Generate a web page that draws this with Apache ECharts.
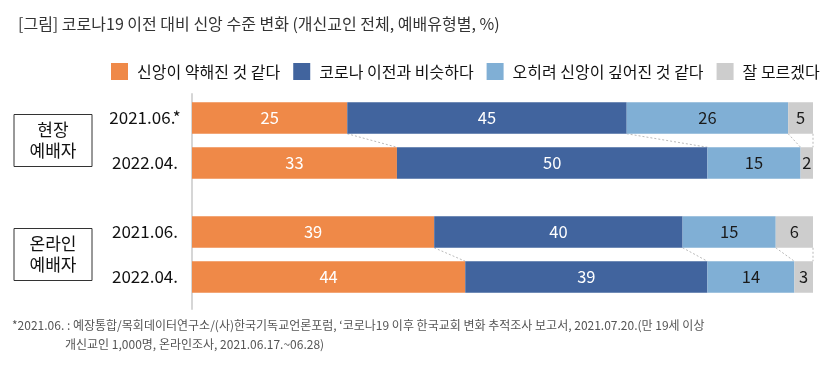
<!DOCTYPE html>
<html><head><meta charset="utf-8">
<script src="https://cdn.jsdelivr.net/npm/echarts@6/dist/echarts.min.js"></script>
<style>html,body{margin:0;padding:0;background:#fff}#c{width:835px;height:373px}</style>
</head><body><div id="c"></div>
<script>
const titleText = '[그림] 코로나19 이전 대비 신앙 수준 변화 (개신교인 전체, 예배유형별, %)';
const footnote1 = '*2021.06. : 예장통합/목회데이터연구소/(사)한국기독교언론포럼, \u2018코로나19 이후 한국교회 변화 추적조사 보고서, 2021.07.20.(만 19세 이상';
const footnote2 = '개신교인 1,000명, 온라인조사, 2021.06.17.~06.28)';
const seriesNames = ['신앙이 약해진 것 같다', '코로나 이전과 비슷하다', '오히려 신앙이 깊어진 것 같다', '잘 모르겠다'];
const groups = ['현장\n예배자', '온라인\n예배자'];
const categories = ['2021.06.*', '2022.04.', '2021.06.', '2022.04.'];
const weakened = [25, 33, 39, 44];
const similar = [45, 50, 40, 39];
const deepened = [26, 15, 15, 14];
const unknown = [5, 2, 6, 3];

const colors = ['#EF8948', '#41649E', '#80AFD5', '#CDCDCD'];
const labelColors = ['#ffffff', '#ffffff', '#1a1a1a', '#1a1a1a'];
const FONT = "'Noto Sans CJK KR', 'Noto Sans', sans-serif";
const values = [weakened, similar, deepened, unknown];

const gridTops = [95.5, 209.5];
const grids = gridTops.map(t => ({left: 192, right: 22, top: t, height: 90}));
grids.push({left: 192, right: 22, top: 94, height: 215});

const xAxes = [0, 1, 2].map(i => ({
  gridIndex: i, type: 'value', min: 0, max: 100, show: false
}));

const yAxes = [];
[0, 1].forEach(g => {
  yAxes.push({
    gridIndex: g, type: 'category', inverse: true,
    data: categories.slice(g * 2, g * 2 + 2),
    axisLine: {show: false}, axisTick: {show: false},
    axisLabel: {margin: 47, align: 'center', fontSize: 17, color: '#111', fontFamily: FONT}
  });
});
[0, 1].forEach(g => {
  yAxes.push({
    gridIndex: g, type: 'category', position: 'left',
    data: [groups[g]],
    axisLine: {show: false}, axisTick: {show: false},
    axisLabel: {
      margin: 139, align: 'center', verticalAlign: 'middle',
      fontSize: 17, lineHeight: 21, color: '#111', fontFamily: FONT,
      borderColor: '#333', borderWidth: 1, width: 78, height: 44, padding: [4, 0, 4, 0]
    }
  });
});
yAxes.push({
  gridIndex: 2, type: 'value', min: 0, max: 1,
  axisLine: {show: true, lineStyle: {color: '#d6d6d6', width: 2}},
  axisTick: {show: false}, axisLabel: {show: false}, splitLine: {show: false}
});

const series = [];
[0, 1].forEach(g => {
  values.forEach((arr, k) => {
    series.push({
      name: seriesNames[k], type: 'bar', stack: 'g' + g,
      xAxisIndex: g, yAxisIndex: g,
      barWidth: '70%', clip: true,
      itemStyle: {color: colors[k]},
      label: {show: true, position: 'inside', fontSize: 16.5, color: labelColors[k], fontFamily: FONT},
      data: arr.slice(g * 2, g * 2 + 2)
    });
  });
  // connector lines between the two bars of a group
  const cumTop = [], cumBot = [];
  let a = 0, b = 0;
  values.forEach(arr => { a += arr[g * 2]; b += arr[g * 2 + 1]; cumTop.push(a); cumBot.push(b); });
  series.push({
    type: 'custom', xAxisIndex: g, yAxisIndex: g, silent: true, z: 1,
    encode: {x: [0, 1], y: 2},
    data: cumTop.map((v, i) => [v, cumBot[i], 0]),
    renderItem: function (params, api) {
      const v1 = Math.min(api.value(0), 100), v2 = Math.min(api.value(1), 100);
      const p1 = api.coord([v1, 0]);
      const p2 = api.coord([v2, 1]);
      const h = api.size([0, 1])[1] * 0.7 / 2;
      return {
        type: 'line',
        shape: {x1: p1[0], y1: p1[1] + h, x2: p2[0], y2: p2[1] - h},
        style: {stroke: '#a8a8a8', lineWidth: 0.8, lineDash: [2, 2]}
      };
    }
  });
});

const chart = echarts.init(document.getElementById('c'), null, {renderer: 'canvas'});
chart.setOption({
  animation: false,
  title: {
    text: titleText, left: 13, top: 11,
    textStyle: {fontSize: 16, fontWeight: 'normal', color: '#333', fontFamily: FONT}
  },
  legend: {
    data: seriesNames, left: 106, top: 58, itemWidth: 17, itemHeight: 17, itemGap: 13,
    icon: 'rect',
    textStyle: {fontSize: 16, color: '#111', fontFamily: FONT, padding: [0, 0, 0, 4]}
  },
  graphic: [
    {type: 'text', left: 12, top: 319, style: {text: footnote1, fontSize: 12, fill: '#555', fontFamily: FONT}},
    {type: 'text', left: 65, top: 338, style: {text: footnote2, fontSize: 12, fill: '#555', fontFamily: FONT}}
  ],
  grid: grids, xAxis: xAxes, yAxis: yAxes, series: series
});
</script></body></html>
